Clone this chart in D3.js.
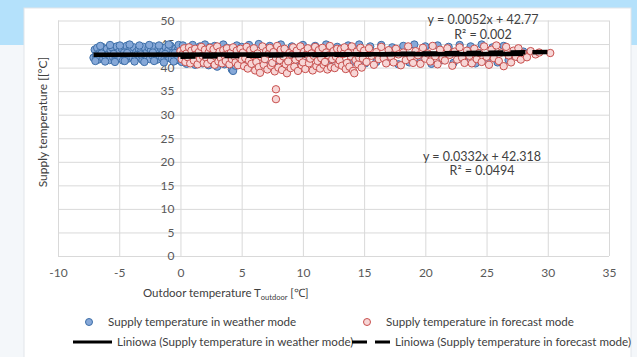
<!DOCTYPE html>
<html><head><meta charset="utf-8">
<script src="https://cdn.jsdelivr.net/npm/d3@7"></script>
<style>html,body{margin:0;padding:0;background:#f4f7fa;}svg{display:block;}</style>
</head><body>
<svg id="c" width="637" height="357"></svg>
<script>
// ---- data ----
const xTicks = [-10,-5,0,5,10,15,20,25,30,35];
const yTicks = [0,5,10,15,20,25,30,35,40,45,50];
const seriesNames = ["Supply temperature in weather mode","Supply temperature in forecast mode"];
const trendNames = ["Liniowa (Supply temperature in weather mode)","Liniowa (Supply temperature in forecast mode)"];
const equations = ["y = 0.0052x + 42.77","R² = 0.002","y = 0.0332x + 42.318","R² = 0.0494"];
const weatherTrend = {slope:0.0052, intercept:42.77, x0:-7.1, x1:28.0};
const forecastTrend = {slope:0.0332, intercept:42.318, x0:0.0, x1:30.2};

const weatherPoints = [
[-7.1,42.1],[-7.0,43.8],[-6.9,42.6],[-6.8,44.2],[-6.7,41.7],[-6.6,43.1],[-6.5,42.9],[-6.4,44.4],[-6.3,41.9],[-6.2,43.5],
[-6.1,42.3],[-6.0,44.0],[-5.9,42.8],[-5.8,41.6],[-5.7,43.7],[-5.6,44.3],[-5.5,42.2],[-5.4,43.0],[-5.3,41.8],[-5.2,44.5],
[-5.1,42.7],[-5.0,43.4],[-4.9,42.0],[-4.8,44.1],[-4.7,41.5],[-4.6,43.2],[-4.5,42.5],[-4.4,44.6],[-4.3,41.9],[-4.2,43.6],
[-4.1,42.4],[-4.0,43.9],[-3.9,42.1],[-3.8,44.3],[-3.7,41.7],[-3.6,43.3],[-3.5,42.8],[-3.4,44.0],[-3.3,42.2],[-3.2,43.5],
[-3.1,41.6],[-3.0,44.4],[-2.9,42.9],[-2.8,43.1],[-2.7,42.0],[-2.6,44.2],[-2.5,41.8],[-2.4,43.7],[-2.3,42.6],[-2.2,44.5],
[-2.1,42.3],[-2.0,43.0],[-1.9,41.7],[-1.8,43.9],[-1.7,42.5],[-1.6,44.1],[-1.5,42.1],[-1.4,43.4],[-1.3,41.9],[-1.2,44.3],
[-1.1,42.7],[-1.0,43.6],[-0.9,42.0],[-0.8,44.6],[-0.7,41.8],[-0.6,43.2],[-0.5,42.4],[-0.4,44.0],[-0.3,41.6],[-0.2,43.8],
[-0.1,42.9],[0.0,44.4],
[-6.95,41.4],[-6.55,44.6],[-6.15,41.3],[-5.75,44.8],[-5.35,41.2],[-4.95,44.7],[-4.55,41.4],[-4.15,44.9],[-3.75,41.3],[-3.35,44.7],
[-2.95,41.2],[-2.55,44.8],[-2.15,41.4],[-1.75,44.7],[-1.35,41.1],[-0.95,44.9],[-0.55,41.3],[-0.15,44.8],[-6.45,43.0],[-5.45,42.9],
[-4.35,43.1],[-3.25,42.8],[-2.25,43.2],[-1.25,42.9],[-0.45,43.1],
[0.1,41.2],[0.2,44.7],[0.3,42.5],[0.4,43.6],[0.5,40.8],[0.6,44.2],[0.7,42.0],[0.8,43.1],[0.9,41.5],[1.0,44.8],
[1.1,42.7],[1.2,40.6],[1.3,43.9],[1.5,41.9],[1.6,44.5],[1.7,42.3],[1.8,40.9],[1.9,43.4],[2.0,44.9],[2.1,41.3],
[2.3,40.5],[2.4,44.3],[2.5,42.8],[2.7,41.0],[2.8,44.6],[3.0,40.2],[3.1,43.7],[3.3,41.6],[3.5,44.9],[3.6,40.7],
[3.8,44.2],[4.0,41.2],[4.2,39.6],[4.3,39.3],[4.5,40.4],[4.6,44.7],[4.8,41.8],[5.0,44.4],
[5.3,41.0],[5.6,44.8],[6.0,41.3],[6.4,45.0],[6.9,40.8],[7.3,44.6],[7.8,41.5],[8.2,44.9],[8.7,41.1],[9.1,44.5],
[9.6,40.9],[10.0,44.8],[10.5,41.4],[11.0,44.6],[11.4,41.0],[11.9,44.9],[12.3,41.6],[12.8,44.4],[13.2,40.8],[13.7,44.7],
[14.1,41.3],[14.6,44.9],[15.1,40.9],[15.5,44.5],[16.0,41.2],[16.4,44.8],[16.9,41.5],[17.3,44.3],[17.8,40.7],[18.2,44.6],
[18.7,41.1],[19.1,44.9],[19.6,41.4],[20.0,44.5],[20.5,40.8],[21.0,44.7],[21.4,41.6],[21.9,44.4],[22.3,41.0],[22.8,44.8],
[23.2,41.3],[23.7,44.5],[24.1,40.9],[24.6,44.9],[25.0,41.5],[25.5,44.3],[25.9,41.1],[26.4,44.6],[26.8,41.6],[27.3,42.6],
[27.7,42.0],[28.0,43.4]
];

const forecastPoints = [
[0.0,43.5],[0.1,41.8],[0.2,42.9],[0.3,44.1],[0.4,41.2],[0.5,43.0],[0.6,42.2],[0.7,44.3],[0.8,40.9],[0.9,43.6],
[1.0,42.4],[1.1,41.5],[1.2,44.0],[1.3,42.8],[1.4,40.7],[1.5,43.3],[1.6,41.9],[1.7,44.4],[1.8,42.5],[1.9,41.0],
[2.0,43.8],[2.1,42.1],[2.2,40.8],[2.3,43.2],[2.4,44.2],[2.5,41.6],[2.6,42.7],[2.7,43.9],[2.8,40.6],[2.9,42.3],
[3.0,44.5],[3.1,41.3],[3.2,43.4],[3.3,42.0],[3.4,40.9],[3.5,43.7],[3.6,42.6],[3.7,41.4],[3.8,44.1],[3.9,42.9],
[4.0,40.7],[4.1,43.1],[4.2,41.8],[4.3,44.3],[4.4,42.4],[4.5,41.1],[4.6,43.6],[4.7,40.5],[4.8,42.2],[4.9,44.0],[5.0,41.7],
[5.1,43.2],[5.2,40.3],[5.3,42.0],[5.4,44.4],[5.5,39.8],[5.6,41.5],[5.7,43.7],[5.8,40.8],[5.9,42.6],[6.0,44.1],
[6.1,39.4],[6.2,41.2],[6.3,43.0],[6.4,40.1],[6.5,38.9],[6.6,42.3],[6.7,44.5],[6.8,40.6],[6.9,41.8],[7.0,43.5],
[7.1,39.6],[7.2,42.9],[7.3,44.2],[7.4,40.4],[7.5,41.0],[7.6,43.3],[7.7,39.2],[7.8,42.1],[7.9,44.6],[8.0,40.0],
[8.1,41.6],[8.2,43.8],[8.3,39.5],[8.4,42.4],[8.5,44.0],[8.6,40.7],[8.7,38.8],[8.8,41.3],[8.9,43.1],[9.0,39.9],
[9.1,42.7],[9.2,44.3],[9.3,40.2],[9.4,41.7],[9.5,43.6],[9.6,39.3],[9.7,42.2],[9.8,44.5],[9.9,40.5],[10.0,41.1],
[10.1,43.4],[10.2,39.7],[10.3,42.8],[10.4,44.1],[10.5,40.9],[10.6,41.9],[10.7,43.0],[10.8,39.4],[10.9,42.5],[11.0,44.4],
[11.1,40.3],[11.2,41.4],[11.3,43.7],[11.4,39.8],[11.5,42.0],[11.6,44.2],[11.7,40.6],[11.8,41.2],[11.9,43.2],[12.0,39.6],
[12.1,42.6],[12.2,44.6],[12.3,40.1],[12.4,41.8],[12.5,43.5],[12.6,39.9],[12.7,42.3],[12.8,44.0],[12.9,40.8],[13.0,41.5],
[13.1,43.9],[13.2,40.4],[13.3,42.9],[13.4,44.3],[13.5,39.7],[13.6,41.0],[13.7,43.1],[13.8,40.2],[13.9,42.4],[14.0,44.5],
[14.1,39.3],[14.2,38.8],[14.3,41.6],[14.4,43.4],[14.5,40.7],[14.6,42.1],[14.7,44.2],[14.8,40.0],[14.9,41.9],[15.0,43.6],
[7.8,35.4],[7.8,33.3],
[15.2,41.2],[15.4,44.1],[15.6,42.5],[15.8,40.6],[16.0,43.3],[16.2,41.8],[16.4,44.4],[16.6,42.0],[16.8,40.9],[17.0,43.7],
[17.2,42.3],[17.4,41.1],[17.6,44.0],[17.8,42.8],[18.0,40.5],[18.2,43.2],[18.4,41.6],[18.6,44.5],[18.8,42.2],[19.0,41.0],
[19.2,43.5],[19.4,42.6],[19.6,40.8],[19.8,44.2],[20.0,41.9],[20.2,43.0],[20.4,41.3],[20.6,44.6],[20.8,42.4],[21.0,40.7],
[21.2,43.8],[21.4,42.0],[21.6,41.5],[21.8,44.1],[22.0,42.7],[22.2,40.4],[22.4,43.4],[22.6,41.7],[22.8,44.3],[23.0,42.1],
[23.2,41.0],[23.4,43.6],[23.6,42.5],[23.8,40.9],[24.0,44.0],[24.2,41.8],[24.4,43.1],[24.6,41.2],[24.8,44.5],[25.0,42.3],
[25.2,40.6],[25.4,43.8],[25.6,42.0],[25.8,44.7],[26.0,41.4],[26.2,43.2],[26.4,40.3],[26.6,44.4],[26.8,42.6],[27.0,41.1],
[27.2,43.6],[27.4,42.3],[27.6,44.1],[27.8,41.7],[28.0,43.0],[28.3,42.2],[28.6,43.5],[29.0,42.8],[29.3,43.2],[30.2,43.1]
];

// ---- drawing ----
const svg = d3.select("#c");
const FONT = "Lato, 'Open Sans', sans-serif";
const x = d3.scaleLinear().domain([-10,35]).range([58,609]);
const y = d3.scaleLinear().domain([0,50]).range([256,20.5]);

// backgrounds
svg.append("rect").attr("x",0).attr("y",0).attr("width",637).attr("height",357).attr("fill","#f4f7fa");
svg.append("rect").attr("x",0).attr("y",0).attr("width",637).attr("height",45).attr("fill","#b4e1fb");
svg.append("rect").attr("x",24).attr("y",8).attr("width",607).attr("height",360)
  .attr("fill","#ffffff").attr("stroke","#e2e6ea").attr("stroke-width",1);

// grid
const gx = svg.append("g").attr("transform","translate(0,256)")
  .call(d3.axisBottom(x).tickValues(xTicks).tickSize(-(256-20.5)).tickFormat(""));
gx.select(".domain").remove();
gx.selectAll("line").attr("stroke","#d9d9d9").attr("stroke-width",1);
const gy = svg.append("g").attr("transform","translate(58,0)")
  .call(d3.axisLeft(y).tickValues(yTicks).tickSize(-(609-58)).tickFormat(""));
gy.select(".domain").remove();
gy.selectAll("line").attr("stroke","#d9d9d9").attr("stroke-width",1);

// tick labels
const ax = svg.append("g").attr("transform","translate(0,256)")
  .call(d3.axisBottom(x).tickValues(xTicks).tickSize(0).tickPadding(12).tickFormat(d=>String(d)));
ax.select(".domain").remove();
ax.selectAll("text").attr("font-family",FONT).attr("font-size",12).attr("fill","#595959");
const ay = svg.append("g").attr("transform","translate("+x(0)+",0)")
  .call(d3.axisLeft(y).tickValues(yTicks).tickSize(0).tickPadding(6).tickFormat(d=>String(d)));
ay.select(".domain").remove();
ay.selectAll("text").attr("font-family",FONT).attr("font-size",12).attr("fill","#595959");

// points
const blueFill="#86a8d8", blueStroke="#3e6fa8", redFill="#f7d6d6", redStroke="#c8504e";
svg.append("g").selectAll("circle").data(weatherPoints).join("circle")
  .attr("cx",d=>x(d[0])).attr("cy",d=>y(d[1])).attr("r",3.7)
  .attr("fill",blueFill).attr("stroke",blueStroke).attr("stroke-width",1);
svg.append("g").selectAll("circle").data(forecastPoints).join("circle")
  .attr("cx",d=>x(d[0])).attr("cy",d=>y(d[1])).attr("r",3.7)
  .attr("fill",redFill).attr("stroke",redStroke).attr("stroke-width",1);

// trend lines
function trendLine(t){ return [[t.x0, t.slope*t.x0+t.intercept],[t.x1, t.slope*t.x1+t.intercept]]; }
const line = d3.line().x(d=>x(d[0])).y(d=>y(d[1]));
svg.append("path").attr("d",line(trendLine(weatherTrend))).attr("stroke","#000").attr("stroke-width",4.5).attr("fill","none");
svg.append("path").attr("d",line(trendLine(forecastTrend))).attr("stroke","#000").attr("stroke-width",4.5)
  .attr("stroke-dasharray","15,7").attr("fill","none");

// equations
const eqPos = [[483,23.5],[483,39],[482,161],[482,175]];
equations.forEach((t,i)=>{
  svg.append("text").attr("x",eqPos[i][0]).attr("y",eqPos[i][1]).attr("text-anchor","middle")
    .attr("font-family",FONT).attr("font-size",12.5).attr("fill","#404040").text(t);
});

// axis titles
const xt = svg.append("text").attr("x",143).attr("y",297).attr("font-family",FONT).attr("font-size",11.5).attr("fill","#404040");
xt.append("tspan").text("Outdoor temperature T");
xt.append("tspan").attr("font-size",7.5).attr("dy",3).text("outdoor");
xt.append("tspan").attr("dy",-3).text(" [℃]");
svg.append("text").attr("transform","translate(47,122) rotate(-90)").attr("text-anchor","middle")
  .attr("font-family",FONT).attr("font-size",12).attr("fill","#404040").text("Supply temperature [[°C]");

// legend
const lg = svg.append("g").attr("font-family",FONT).attr("font-size",11.6).attr("fill","#404040");
lg.append("circle").attr("cx",89).attr("cy",322).attr("r",3.5).attr("fill",blueFill).attr("stroke",blueStroke);
lg.append("text").attr("x",108).attr("y",326).text(seriesNames[0]);
lg.append("circle").attr("cx",367).attr("cy",322).attr("r",3.5).attr("fill",redFill).attr("stroke",redStroke);
lg.append("text").attr("x",386).attr("y",326).text(seriesNames[1]);
lg.append("line").attr("x1",73).attr("x2",112).attr("y1",342).attr("y2",342).attr("stroke","#000").attr("stroke-width",3);
lg.append("text").attr("x",117).attr("y",346).text(trendNames[0]);
lg.append("line").attr("x1",352).attr("x2",390).attr("y1",342).attr("y2",342).attr("stroke","#000").attr("stroke-width",3).attr("stroke-dasharray","15,8");
lg.append("text").attr("x",395).attr("y",346).text(trendNames[1]);
</script>
</body></html>
